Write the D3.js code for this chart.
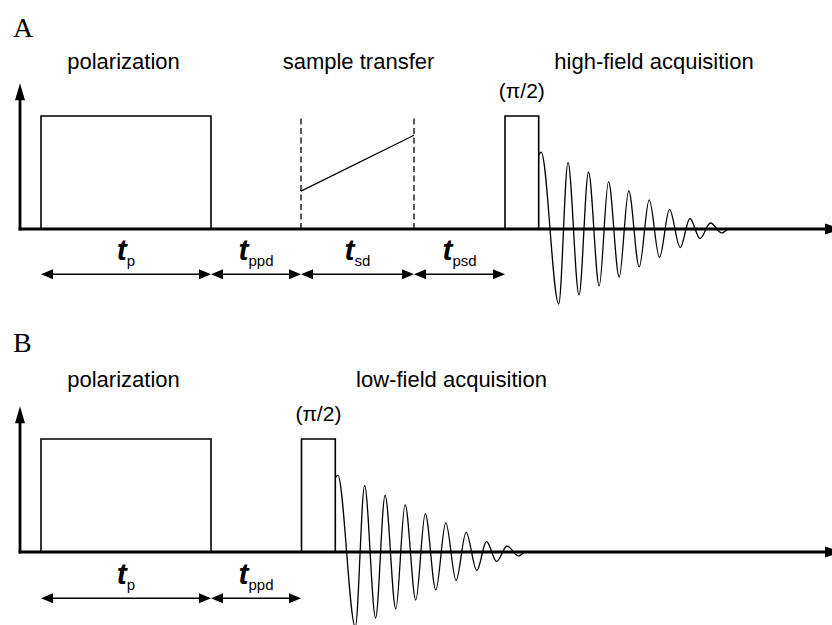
<!DOCTYPE html>
<html>
<head>
<meta charset="utf-8">
<script src="https://cdn.jsdelivr.net/npm/d3@7"></script>
<style>
  body { margin: 0; background: white; }
  text { font-family: Arial, 'Liberation Sans', sans-serif; fill: black; }
</style>
</head>
<body>
<script>
// time in arbitrary units (0 = start of the time axis)
// amplitude: 100 = height of the pulses

let panelNames = ['A', 'B'];

// section titles and the time they are centred on
let titlesA = ['polarization', 'sample transfer', 'high-field acquisition'];
let titleTimesA = [103.5, 338.5, 634];
let titlesB = ['polarization', 'low-field acquisition'];
let titleTimesB = [103.5, 431.5];

// pulses: start, end (height 100)
let pulseStartA = [21, 485];
let pulseEndA = [191, 518.7];
let pulseStartB = [21, 281.5];
let pulseEndB = [191, 315.3];

// sample transfer ramp between the dashed marks
let rampTimes = [281, 394];
let rampAmps = [33.5, 83];

// delay intervals
let intervalNamesA = ['p', 'ppd', 'sd', 'psd'];
let intervalEdgesA = [21, 191, 281, 394, 485];
let intervalNamesB = ['p', 'ppd'];
let intervalEdgesB = [21, 191, 281];

// FID: time after the pulse, amplitude
let fidTimes = [0, 2.5, 20, 29.3, 40.3, 49.8, 60.5, 69.8, 80.5, 90, 100.5,
                110.5, 120.8, 130.8, 141.5, 151.2, 161.3, 171.8, 183, 189];
let fidAmps = [65.5, 68, -66.4, 58.8, -58.4, 50.4, -50.4, 42, -42.5, 34, -33.6,
               25.7, -25.2, 17.3, -16.4, 9.3, -8.4, 5.3, -3.5, 0];

let timeMax = 822, ampMax = 129;

let width = 832, height = 625;

let svg = d3.select('body')
  .append('svg')
  .attr('width', width)
  .attr('height', height)
  .style('background', 'white');

let xScale = d3.scaleLinear()
  .domain([0, timeMax])
  .range([20, 842]);

function arrowHead(g, x, y, angle, len, wid) {
  g.append('path')
    .attr('d', `M0,0 L${-len},${-wid / 2} L${-len},${wid / 2} Z`)
    .attr('transform', `translate(${x},${y}) rotate(${angle})`)
    .attr('fill', 'black');
}

function drawPanel(cfg) {
  let g = svg.append('g');
  let yScale = d3.scaleLinear()
    .domain([0, 100])
    .range([cfg.base, cfg.base - 113]);

  // panel letter
  g.append('text')
    .attr('x', 13)
    .attr('y', cfg.letterY)
    .text(cfg.name)
    .style('font-family', "'Liberation Serif', 'Times New Roman', serif")
    .style('font-size', '28px');

  // section titles
  g.selectAll('.title')
    .data(cfg.titles)
    .enter()
    .append('text')
    .attr('x', (d, i) => xScale(cfg.titleTimes[i]))
    .attr('y', cfg.titleY)
    .attr('text-anchor', 'middle')
    .style('font-size', '22px')
    .text(d => d);

  // pulses
  g.selectAll('.pulse')
    .data(cfg.pulseStart)
    .enter()
    .append('path')
    .attr('d', (d, i) => {
      let x0 = xScale(d), x1 = xScale(cfg.pulseEnd[i]);
      return `M${x0},${yScale(0)} V${yScale(100)} H${x1} V${yScale(0)}`;
    })
    .attr('fill', 'none')
    .attr('stroke', 'black')
    .attr('stroke-width', 1.6);

  // (pi/2) label over the last pulse
  let last = cfg.pulseStart.length - 1;
  g.append('text')
    .attr('x', xScale((cfg.pulseStart[last] + cfg.pulseEnd[last]) / 2))
    .attr('y', yScale(100) - 18)
    .attr('text-anchor', 'middle')
    .style('font-size', '21px')
    .text('(\u03c0/2)');

  // sample transfer marks
  if (cfg.ramp) {
    g.selectAll('.mark')
      .data(rampTimes)
      .enter()
      .append('line')
      .attr('x1', d => xScale(d))
      .attr('x2', d => xScale(d))
      .attr('y1', yScale(0))
      .attr('y2', yScale(100))
      .attr('stroke', 'black')
      .attr('stroke-width', 1.3)
      .attr('stroke-dasharray', '6,3.5');

    g.append('line')
      .attr('x1', xScale(rampTimes[0]))
      .attr('x2', xScale(rampTimes[1]))
      .attr('y1', yScale(rampAmps[0]))
      .attr('y2', yScale(rampAmps[1]))
      .attr('stroke', 'black')
      .attr('stroke-width', 1.3);
  }

  // FID after the last pulse
  let t0 = cfg.pulseEnd[last];
  let fid = d3.line()
    .x((d, i) => xScale(t0 + d))
    .y((d, i) => yScale(fidAmps[i]))
    .curve(d3.curveMonotoneX);
  g.append('path')
    .attr('d', fid(fidTimes))
    .attr('fill', 'none')
    .attr('stroke', 'black')
    .attr('stroke-width', 1.3);

  // axes
  let ox = xScale(0), oy = yScale(0);
  g.append('line')
    .attr('x1', ox).attr('x2', ox)
    .attr('y1', oy + 1.4).attr('y2', yScale(ampMax) + 12)
    .attr('stroke', 'black').attr('stroke-width', 2.8);
  arrowHead(g, ox, yScale(ampMax), -90, 17, 10);

  g.append('line')
    .attr('x1', ox - 1.4).attr('x2', xScale(timeMax) - 12)
    .attr('y1', oy).attr('y2', oy)
    .attr('stroke', 'black').attr('stroke-width', 2.8);
  arrowHead(g, xScale(timeMax), oy, 0, 17, 11);

  // interval arrows
  let ay = cfg.base + cfg.arrowOffset;
  let edges = cfg.intervalEdges;
  cfg.intervalNames.forEach((name, i) => {
    let x0 = xScale(edges[i]), x1 = xScale(edges[i + 1]);
    g.append('line')
      .attr('x1', x0 + 6).attr('x2', x1 - 6)
      .attr('y1', ay).attr('y2', ay)
      .attr('stroke', 'black').attr('stroke-width', 1.6);
    arrowHead(g, x0, ay, 180, 12, 10);
    arrowHead(g, x1, ay, 0, 12, 10);

    let lbl = g.append('text')
      .attr('x', (x0 + x1) / 2)
      .attr('y', ay - 14)
      .attr('text-anchor', 'middle');
    lbl.append('tspan')
      .style('font-size', '30px')
      .style('font-style', 'italic')
      .style('font-weight', 'bold')
      .text('t');
    lbl.append('tspan')
      .attr('dy', 5.5)
      .style('font-size', '15px')
      .text(name);
  });
}

drawPanel({
  name: panelNames[0], base: 229, letterY: 36.7, titleY: 69, arrowOffset: 45.3,
  titles: titlesA, titleTimes: titleTimesA,
  pulseStart: pulseStartA, pulseEnd: pulseEndA, ramp: true,
  intervalNames: intervalNamesA, intervalEdges: intervalEdgesA
});

drawPanel({
  name: panelNames[1], base: 552, letterY: 351.5, titleY: 386.7, arrowOffset: 46.3,
  titles: titlesB, titleTimes: titleTimesB,
  pulseStart: pulseStartB, pulseEnd: pulseEndB, ramp: false,
  intervalNames: intervalNamesB, intervalEdges: intervalEdgesB
});
</script>
</body>
</html>
